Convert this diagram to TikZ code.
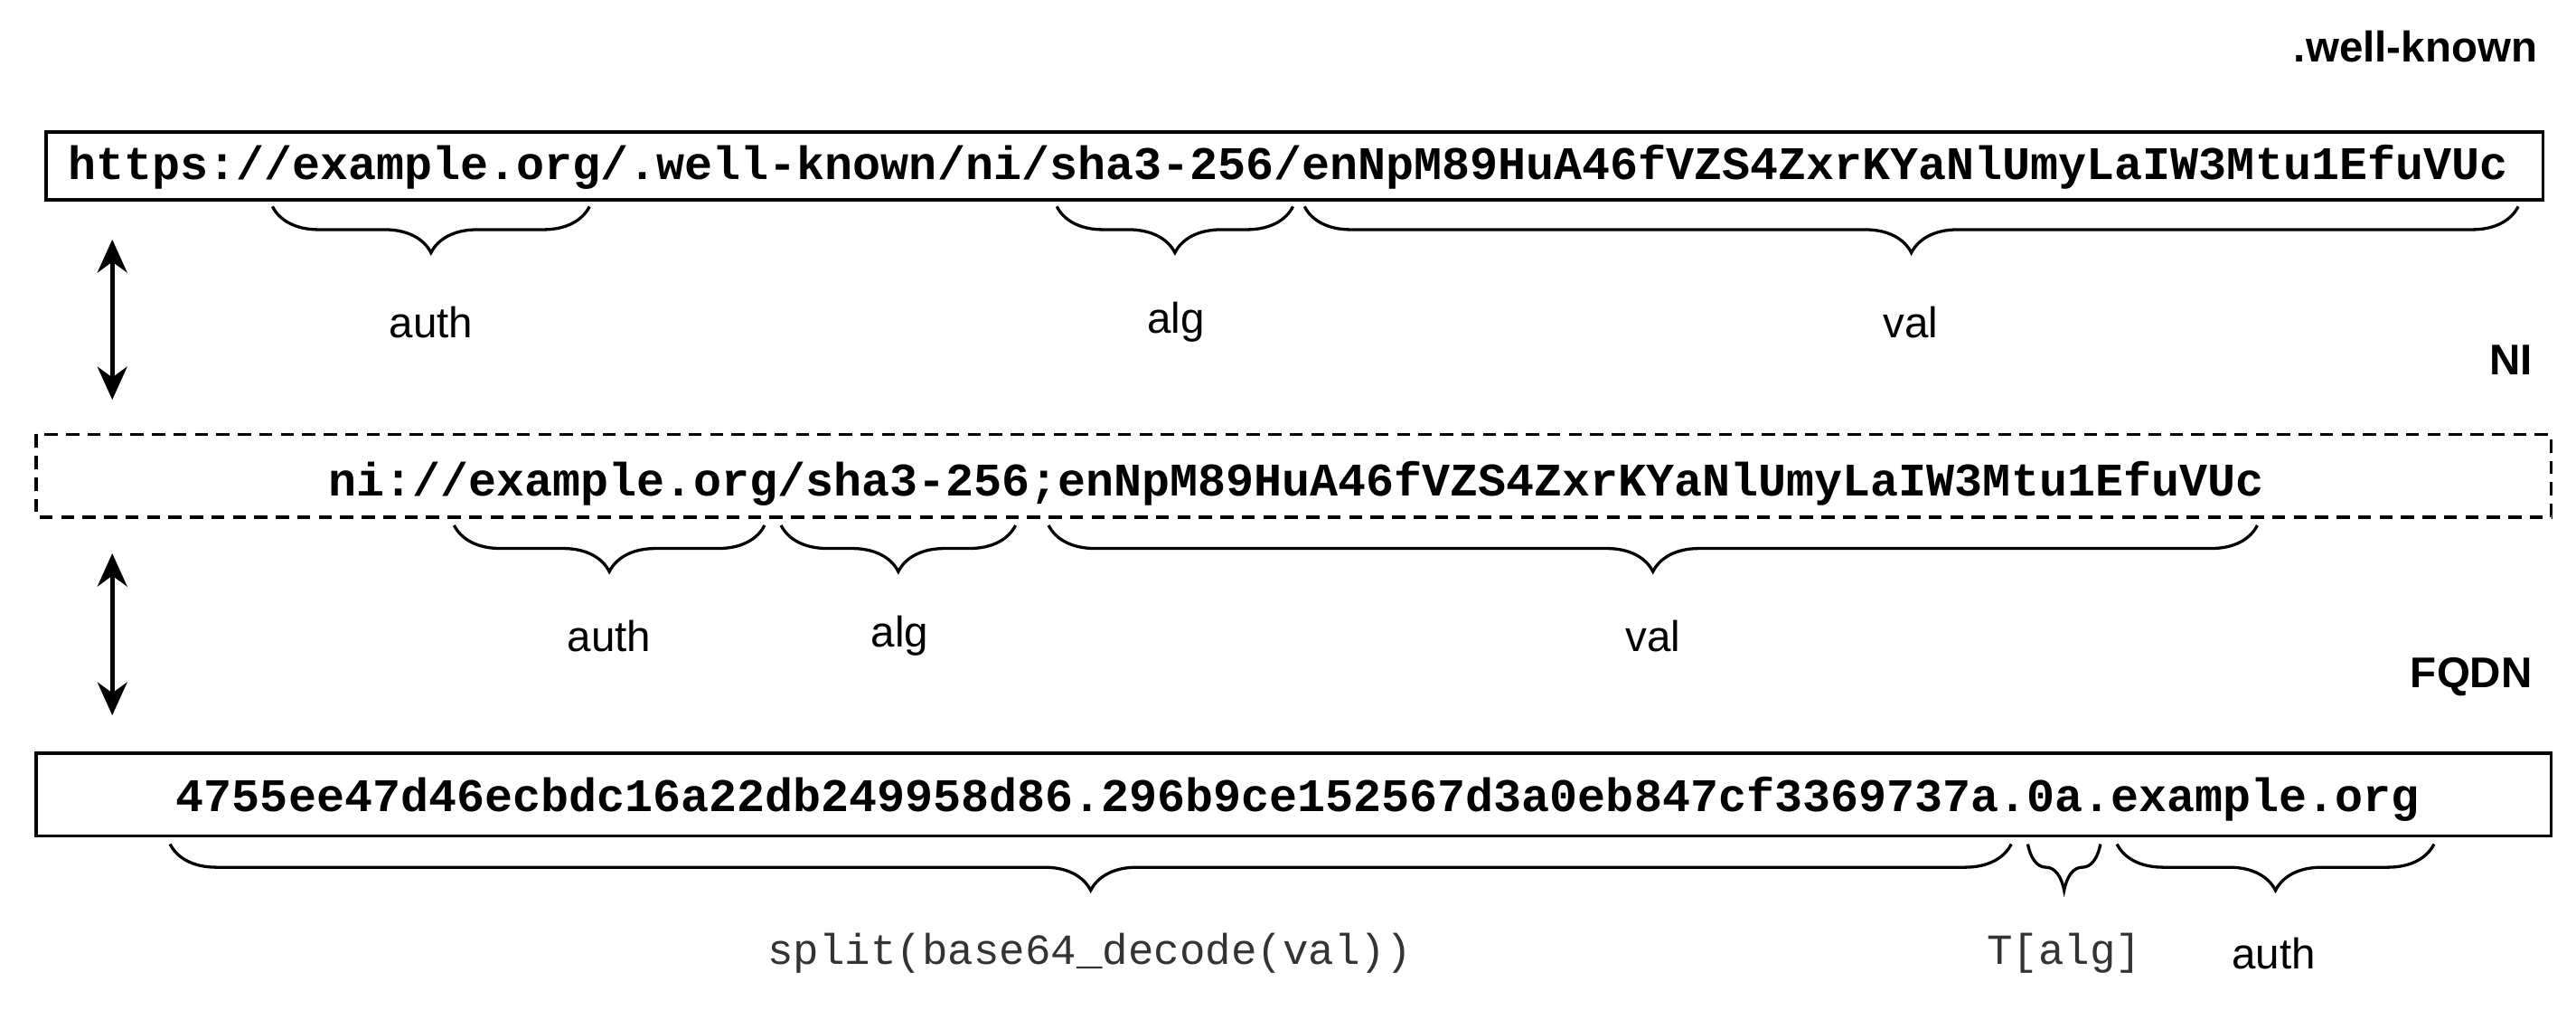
\documentclass[tikz,border=0pt]{standalone}
\usepackage{fontspec}
\setmainfont{Liberation Sans}
\setmonofont{Liberation Mono}
\usetikzlibrary{decorations.pathreplacing,arrows.meta}
\begin{document}
\begin{tikzpicture}[x=1pt,y=-1pt,
  urlbox/.style={draw,line width=2pt},
  mono/.style={font=\fontsize{28.3}{30}\selectfont\ttfamily\bfseries},
  lab/.style={font=\fontsize{26}{28}\selectfont},
  monolab/.style={font=\fontsize{26}{28}\selectfont\ttfamily,text=black!80},
  head/.style={font=\fontsize{26}{28}\selectfont\bfseries,anchor=east},
  br/.style={decorate,decoration={brace,mirror,amplitude=28pt,aspect=0.5},line width=1.8pt},
  dbl/.style={{Stealth[length=20pt,width=18pt]}-{Stealth[length=20pt,width=18pt]},line width=2.5pt}]
\useasboundingbox (0,0) rectangle (1560,611);
\node[head] (wk) at (1540,28) {.well-known};
\draw[urlbox] (28,80) rectangle (1540,121);
\node[mono] (u1) at (780,101) {https://example.org/.well-known/ni/sha3-256/enNpM89HuA46fVZS4ZxrKYaNlUmyLaIW3Mtu1EfuVUc};
\draw[br] (165,125) -- (357,125);
\draw[br] (640,125) -- (783,125);
\draw[br] (790,125) -- (1525,125);
\node[lab] (a1) at (261,195) {auth};
\node[lab] (g1) at (712,195) {alg};
\node[lab] (v1) at (1157,195) {val};
\coordinate (t1) at (68,145); \coordinate (b1) at (68,242);
\draw[dbl] (t1) -- (b1);
\node[head] (ni) at (1537,218) {NI};
\draw[urlbox,dashed,dash pattern=on 8pt off 5pt] (22,263) rectangle (1545,313);
\node[mono] (u2) at (785,293) {ni://example.org/sha3-256;enNpM89HuA46fVZS4ZxrKYaNlUmyLaIW3Mtu1EfuVUc};
\draw[br] (275,318) -- (463,318);
\draw[br] (473,318) -- (615,318);
\draw[br] (635,318) -- (1367,318);
\node[lab] (a2) at (369,385) {auth};
\node[lab] (g2) at (545,385) {alg};
\node[lab] (v2) at (1001,385) {val};
\coordinate (t2) at (68,335); \coordinate (b2) at (68,433);
\draw[dbl] (t2) -- (b2);
\node[head] (fq) at (1537,410) {FQDN};
\draw[urlbox] (22,456) rectangle (1545,506);
\node[mono] (u3) at (786,484) {4755ee47d46ecbdc16a22db249958d86.296b9ce152567d3a0eb847cf3369737a.0a.example.org};
\draw[br] (103,511) -- (1218,511);
\draw[br] (1228,511) -- (1272,511);
\draw[br] (1282,511) -- (1474,511);
\node[monolab] (s3) at (660,577) {split(base64\_decode(val))};
\node[monolab] (T3) at (1250,577) {T[alg]};
\node[lab] (a3) at (1377,577) {auth};
\end{tikzpicture}
\end{document}
